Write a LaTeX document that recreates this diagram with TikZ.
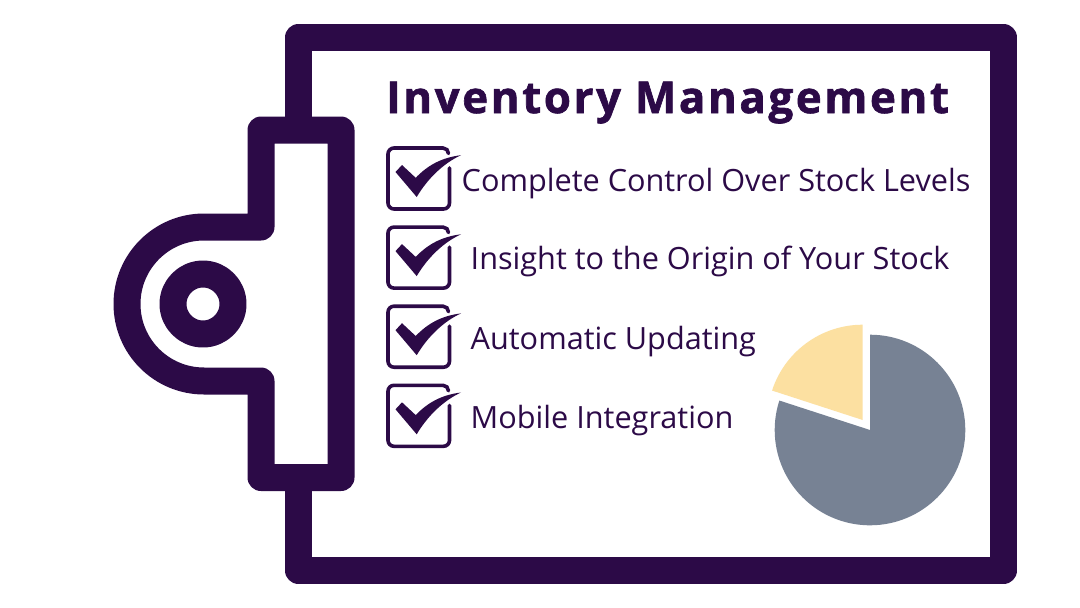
\documentclass[tikz,border=0pt]{standalone}
\usepackage{fontspec}
\setmainfont{Open Sans}
\newfontfamily\titlefont[LetterSpace=6,BoldFeatures={FakeBold=1.5}]{Open Sans}
\definecolor{boardpurple}{HTML}{2C0A47}
\definecolor{pieslate}{HTML}{778294}
\definecolor{pieyellow}{HTML}{FCE0A1}
\tikzset{
	boardline/.style={line width=27pt, color=boardpurple, line join=round},
	itemtext/.style={anchor=base west, inner sep=0pt, color=boardpurple, font=\fontsize{30.65}{31}\selectfont},
}

\begin{document}
\begin{tikzpicture}[x=1pt, y=-1pt]
			%%%%% START %%%%%
			\useasboundingbox (0, 0) rectangle (1080, 608);
			\fill[white] (0, 0) rectangle (1080, 608);

			\draw[boardline] (298.5, 130) -- (298.5, 37.5) -- (1003.5, 37.5) -- (1003.5, 570.5) -- (298.5, 570.5) -- (298.5, 477.5);

			\draw[boardline] (204, 227) -- (261, 227) -- (261, 130) -- (341, 130) -- (341, 477.5) -- (261, 477.5) -- (261, 381) -- (204, 381) arc (90:270:77) -- cycle;
			\draw[boardline] (203, 304) circle (30);

			\node[anchor=base west, inner sep=0pt, color=boardpurple] (title) at (386, 113) {\titlefont\fontsize{43.8}{44}\selectfont\bfseries Inventory Management};

			\foreach \rowy in {0, 79.1, 158.2, 237.3} {
				\begin{scope}[yshift=-\rowy pt]
					\draw[line width=3.6pt, color=boardpurple, line cap=round] (449.5, 168) -- (449.5, 203) arc (0:90:6) -- (394, 209) arc (90:180:6) -- (388, 154) arc (180:270:6) -- (443, 148) arc (270:360:5.5);
					\fill[boardpurple] (395.5, 172) -- (402, 165) -- (415.7, 177.8) .. controls (428, 165) and (442, 157.5) .. (461, 155.2) .. controls (444, 163) and (428, 178) .. (416.7, 197) -- cycle;
				\end{scope}
			}

			\node[itemtext] (control) at (461.5, 191) {Complete Control Over Stock Levels};
			\node[itemtext] (insight) at (470.5, 269) {Insight to the Origin of Your Stock};
			\node[itemtext] (updating) at (470.5, 349) {Automatic Updating};
			\node[itemtext] (mobile) at (470.5, 428) {Mobile Integration};

			\fill[pieslate] (870, 430) -- (870, 334.7) arc (-90:198:95.3) -- cycle;
			\fill[pieyellow] (862.7, 420) -- (862.7, 324.7) arc (-90:-162:95.3) -- cycle;
			%%%%% END %%%%%
		\end{tikzpicture}
\end{document}
